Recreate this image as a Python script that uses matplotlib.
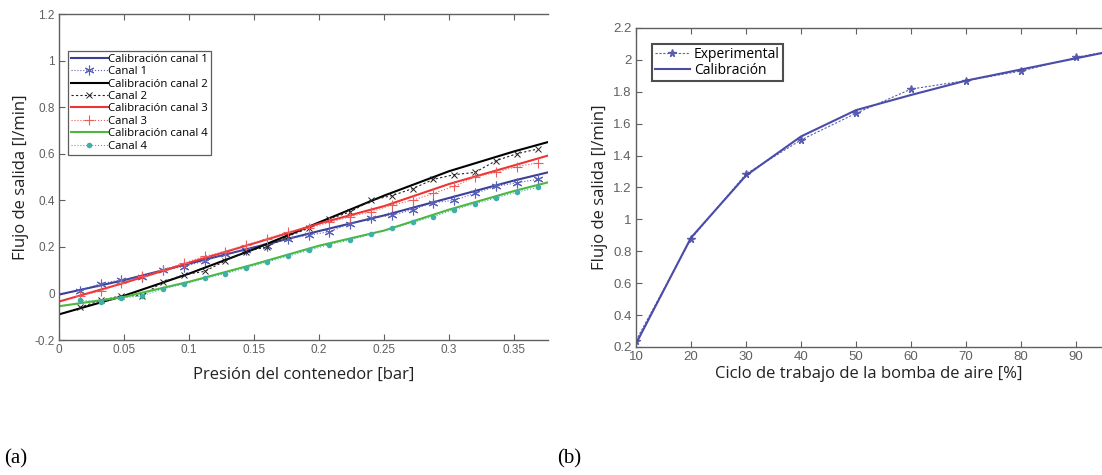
import numpy as np
import matplotlib
matplotlib.use("Agg")
import matplotlib.pyplot as plt

plt.rcParams["font.family"] = ["Liberation Sans", "DejaVu Sans"]

# ---- (a) calibracion de canales ----
x_cal = [0.0, 0.05, 0.1, 0.15, 0.2, 0.25, 0.3, 0.35, 0.376]
cal_1 = [-0.005, 0.057, 0.128, 0.198, 0.268, 0.335, 0.41, 0.485, 0.52]
cal_2 = [-0.09, -0.01, 0.085, 0.19, 0.305, 0.42, 0.525, 0.61, 0.65]
cal_3 = [-0.035, 0.045, 0.132, 0.215, 0.3, 0.375, 0.47, 0.55, 0.592]
cal_4 = [-0.055, -0.015, 0.05, 0.125, 0.205, 0.27, 0.36, 0.44, 0.477]

x_exp = [0.016, 0.032, 0.048, 0.064, 0.080, 0.096, 0.112, 0.128, 0.144, 0.160,
         0.176, 0.192, 0.208, 0.224, 0.240, 0.256, 0.272, 0.288, 0.304, 0.320,
         0.336, 0.352, 0.368]
canal_1 = [0.012, 0.042, 0.058, 0.07, 0.1, 0.115, 0.14, 0.17, 0.185, 0.205,
           0.235, 0.25, 0.265, 0.3, 0.325, 0.335, 0.36, 0.39, 0.4, 0.43,
           0.46, 0.475, 0.49]
canal_2 = [-0.06, -0.03, -0.01, -0.01, 0.05, 0.08, 0.095, 0.14, 0.18, 0.2,
           0.245, 0.28, 0.32, 0.35, 0.4, 0.42, 0.45, 0.49, 0.51, 0.52,
           0.57, 0.6, 0.62]
canal_3 = [-0.01, 0.01, 0.045, 0.075, 0.1, 0.13, 0.16, 0.18, 0.21, 0.235,
           0.265, 0.28, 0.305, 0.33, 0.35, 0.38, 0.4, 0.43, 0.46, 0.5,
           0.52, 0.545, 0.56]
canal_4 = [-0.03, -0.035, -0.02, -0.01, 0.02, 0.04, 0.065, 0.085, 0.11, 0.135,
           0.16, 0.185, 0.21, 0.23, 0.255, 0.28, 0.305, 0.33, 0.36, 0.385,
           0.41, 0.435, 0.455]

# ---- (b) bomba de aire ----
ciclo = [10, 20, 30, 40, 50, 60, 70, 80, 90, 100]
flujo_exp = [0.24, 0.877, 1.285, 1.498, 1.665, 1.817, 1.87, 1.93, 2.016, 2.08]
flujo_cal = [0.22, 0.885, 1.275, 1.52, 1.685, 1.78, 1.87, 1.94, 2.01, 2.08]

grey = "#606060"
lab_font = "Open Sans"
asterisk = (6, 2, 0)

fig = plt.figure(figsize=(11.02, 4.75), dpi=100)

def style_axes(ax, size):
    for s in ["left", "bottom", "top"]:
        ax.spines[s].set_color(grey)
        ax.spines[s].set_linewidth(1.0)
    ax.spines["right"].set_visible(False)
    ax.tick_params(direction="in", top=True, right=False, colors=grey,
                   labelsize=size, length=4, pad=3)

# (a)
ax1 = fig.add_axes([0.0535, 0.2842, 0.4437, 0.6863])
ax1.plot(x_cal, cal_1, color="#3b3f99", lw=1.5, label="Calibración canal 1")
ax1.plot(x_exp, canal_1, color="#5a62b8", lw=0.8, ls=":", marker=asterisk,
         ms=7, mew=0.8, label="Canal 1")
ax1.plot(x_cal, cal_2, color="black", lw=1.5, label="Calibración canal 2")
ax1.plot(x_exp, canal_2, color="#222222", lw=0.8, ls="--", marker="x", ms=4,
         mew=0.7, dashes=(2, 2), label="Canal 2")
ax1.plot(x_cal, cal_3, color="#ee3535", lw=1.5, label="Calibración canal 3")
ax1.plot(x_exp, canal_3, color="#f05a5a", lw=0.8, ls=":", marker="+", ms=7,
         mew=0.8, label="Canal 3")
ax1.plot(x_cal, cal_4, color="#4cb83c", lw=1.5, label="Calibración canal 4")
ax1.plot(x_exp, canal_4, color="#3fb0a8", lw=0.8, ls=":", marker="o", ms=3,
         label="Canal 4")
ax1.set_xlim(0, 0.376)
ax1.set_ylim(-0.2, 1.2)
ax1.set_xticks([0, 0.05, 0.1, 0.15, 0.2, 0.25, 0.3, 0.35])
ax1.set_xticklabels(["0", "0.05", "0.1", "0.15", "0.2", "0.25", "0.3", "0.35"])
ax1.set_yticks([-0.2, 0, 0.2, 0.4, 0.6, 0.8, 1, 1.2])
ax1.set_yticklabels(["-0.2", "0", "0.2", "0.4", "0.6", "0.8", "1", "1.2"])
style_axes(ax1, 8.5)
ax1.set_xlabel("Presión del contenedor [bar]", fontsize=12, family=lab_font,
               color="#222222", labelpad=8)
ax1.set_ylabel("Flujo de salida [l/min]", fontsize=12, family=lab_font,
               color="#222222", labelpad=4)
leg1 = ax1.legend(loc="upper left", bbox_to_anchor=(0.018, 0.888),
                  prop={"family": lab_font, "size": 8.2}, frameon=True,
                  fancybox=False, handlelength=3.2, handletextpad=0.05,
                  borderpad=0.3, labelspacing=0.12, borderaxespad=0)
leg1.get_frame().set_edgecolor("#333333")
leg1.get_frame().set_linewidth(0.9)

# (b)
ax2 = fig.add_axes([0.5771, 0.2695, 0.4229, 0.6716])
ax2.plot(ciclo, flujo_exp, color="#5a5cb0", lw=0.8, ls="--", dashes=(2, 1.5),
         marker="*", ms=5.5, label="Experimental")
ax2.plot(ciclo, flujo_cal, color="#4a4ca8", lw=1.5, label="Calibración")
ax2.set_xlim(10, 94.7)
ax2.set_ylim(0.2, 2.2)
ax2.set_xticks([10, 20, 30, 40, 50, 60, 70, 80, 90])
ax2.set_yticks([0.2, 0.4, 0.6, 0.8, 1, 1.2, 1.4, 1.6, 1.8, 2, 2.2])
ax2.set_yticklabels(["0.2", "0.4", "0.6", "0.8", "1", "1.2", "1.4", "1.6",
                     "1.8", "2", "2.2"])
style_axes(ax2, 9.5)
ax2.set_xlabel("Ciclo de trabajo de la bomba de aire [%]", fontsize=12,
               family=lab_font, color="#222222", labelpad=2)
ax2.set_ylabel("Flujo de salida [l/min]", fontsize=12, family=lab_font,
               color="#222222", labelpad=4)
leg2 = ax2.legend(loc="upper left", bbox_to_anchor=(0.035, 0.95),
                  prop={"family": lab_font, "size": 10}, frameon=True,
                  fancybox=False, handlelength=2.5, handletextpad=0.3,
                  borderpad=0.2, labelspacing=0.1, borderaxespad=0)
leg2.get_frame().set_edgecolor("#222222")
leg2.get_frame().set_linewidth(1.5)

fig.text(0.004, 0.025, "(a)", fontsize=15, family="Liberation Serif")
fig.text(0.506, 0.025, "(b)", fontsize=15, family="Liberation Serif")

fig.savefig("out.png", dpi=100)
